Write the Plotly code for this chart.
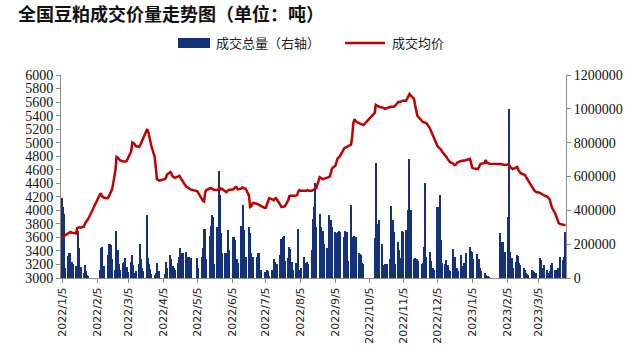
import pandas as pd
import plotly.graph_objects as go

# ---------------- data ----------------
# Exchange holidays (no trading) within the period
holidays = ["2022-01-03", "2022-01-31", "2022-02-01", "2022-02-02", "2022-02-03", "2022-02-04",
            "2022-04-04", "2022-04-05", "2022-05-02", "2022-05-03", "2022-05-04", "2022-06-03",
            "2022-09-12", "2022-10-03", "2022-10-04", "2022-10-05", "2022-10-06", "2022-10-07",
            "2023-01-02", "2023-01-23", "2023-01-24", "2023-01-25", "2023-01-26", "2023-01-27"]
trade_days = pd.bdate_range("2022-01-04", "2023-03-29", freq="C", holidays=holidays)

# Daily total volume (thousand tonnes), by month
vol_2022_01 = [475, 420, 380, 60, 130, 145, 150, 95, 80, 70, 60, 275, 180, 65, 30, 75, 40, 20, 10]
vol_2022_02 = [45, 180, 185, 60, 70, 135, 200, 200, 195, 115, 45, 280, 165, 80, 45, 90]
vol_2022_03 = [95, 120, 65, 35, 95, 135, 75, 30, 40, 85, 200, 115, 60, 40, 370, 120, 85, 55, 25, 15, 30, 90, 40]
vol_2022_04 = [40, 25, 95, 60, 135, 110, 70, 60, 45, 90, 125, 180, 145, 150, 155, 125, 125, 125, 120]
vol_2022_05 = [120, 60, 125, 175, 290, 290, 110, 250, 310, 370, 360, 80, 300, 630, 490, 265, 150, 150, 150]
vol_2022_06 = [285, 165, 240, 240, 225, 110, 90, 310, 300, 430, 285, 125, 300, 265, 150, 120, 125, 125, 145, 150, 50]
vol_2022_07 = [50, 35, 35, 45, 40, 10, 45, 110, 95, 85, 85, 135, 230, 245, 250, 100, 120, 185, 170, 95, 50]
vol_2022_08 = [90, 60, 290, 45, 60, 125, 90, 90, 95, 85, 165, 350, 420, 560, 300, 380, 300, 270, 275, 200, 175, 370, 320]
vol_2022_09 = [340, 300, 270, 265, 270, 275, 270, 245, 280, 270, 100, 430, 245, 185, 250, 240, 150, 140, 135, 90, 80]
vol_2022_10 = [235, 680, 265, 320, 345, 200, 75, 85, 85, 85, 115, 425, 345, 270, 85, 215]
vol_2022_11 = [165, 120, 280, 270, 285, 285, 400, 705, 400, 115, 120, 110, 115, 100, 85, 90, 185, 560, 125, 155, 100, 50]
vol_2022_12 = [60, 50, 420, 420, 490, 225, 90, 80, 105, 75, 50, 40, 170, 75, 125, 60, 40, 135, 70, 50, 90, 150]
vol_2023_01 = [185, 160, 155, 115, 140, 110, 110, 57, 40, 28, 20, 10, 8, 5, 265, 215]
vol_2023_02 = [215, 155, 155, 360, 1000, 155, 120, 60, 97, 136, 130, 87, 77, 57, 47, 28, 25, 15, 47, 40]
vol_2023_03 = [37, 28, 28, 116, 106, 28, 60, 77, 47, 28, 40, 77, 87, 47, 47, 57, 57, 126, 106, 126, 272]

# Daily average price (yuan/tonne), by month
price_2022_01 = [3600, 3610, 3630, 3640, 3660, 3680, 3680, 3670, 3670, 3660, 3740, 3750, 3750, 3745, 3760, 3810, 3830, 3860, 3880]
price_2022_02 = [4230, 4255, 4210, 4200, 4185, 4180, 4200, 4240, 4280, 4310, 4590, 4790, 4780, 4750, 4740, 4720]
price_2022_03 = [4715, 4720, 4730, 4760, 4870, 5000, 4990, 4980, 4950, 4935, 4960, 5000, 5020, 5070, 5190, 5180, 5100, 5040, 4950, 4790, 4650, 4460, 4450]
price_2022_04 = [4440, 4460, 4480, 4530, 4567, 4540, 4500, 4490, 4480, 4500, 4510, 4480, 4460, 4430, 4350, 4340, 4330, 4320, 4310]
price_2022_05 = [4280, 4250, 4180, 4140, 4130, 4270, 4300, 4320, 4330, 4320, 4310, 4300, 4300, 4320, 4330, 4310, 4320, 4280, 4270]
price_2022_06 = [4290, 4300, 4310, 4330, 4345, 4340, 4310, 4320, 4340, 4330, 4330, 4320, 4220, 4050, 4060, 4100, 4110, 4100, 4090, 4080, 4070]
price_2022_07 = [4060, 4035, 4040, 4100, 4150, 4180, 4160, 4150, 4170, 4180, 4160, 4060, 4050, 4050, 4050, 4060, 4150, 4210, 4215, 4220, 4215]
price_2022_08 = [4220, 4230, 4280, 4300, 4290, 4290, 4280, 4290, 4300, 4290, 4290, 4300, 4300, 4310, 4330, 4490, 4480, 4470, 4460, 4470, 4480, 4490, 4500]
price_2022_09 = [4560, 4620, 4660, 4720, 4770, 4780, 4800, 4920, 4930, 4940, 4950, 4970, 5100, 5290, 5350, 5320, 5290, 5285, 5280, 5270, 5260]
price_2022_10 = [5440, 5560, 5550, 5540, 5530, 5520, 5510, 5500, 5510, 5510, 5530, 5530, 5520, 5530, 5540, 5600]
price_2022_11 = [5600, 5600, 5610, 5620, 5620, 5650, 5680, 5720, 5700, 5650, 5560, 5450, 5400, 5380, 5320, 5305, 5300, 5295, 5290, 5220, 5180, 5140]
price_2022_12 = [5110, 5050, 4950, 4930, 4920, 4900, 4870, 4820, 4790, 4760, 4730, 4715, 4690, 4670, 4670, 4690, 4710, 4730, 4730, 4730, 4730, 4740]
price_2023_01 = [4760, 4700, 4630, 4620, 4610, 4610, 4640, 4680, 4690, 4700, 4745, 4700, 4700, 4690, 4685, 4680]
price_2023_02 = [4680, 4675, 4670, 4680, 4660, 4630, 4620, 4610, 4630, 4640, 4600, 4570, 4550, 4530, 4520, 4490, 4460, 4440, 4350, 4320]
price_2023_03 = [4300, 4280, 4270, 4260, 4250, 4240, 4225, 4220, 4200, 4180, 4160, 4100, 4040, 3950, 3890, 3840, 3810, 3800, 3785, 3780, 3780]

tick_dates = ["2022-01-05", "2022-02-05", "2022-03-05", "2022-04-05", "2022-05-05", "2022-06-05",
              "2022-07-05", "2022-08-05", "2022-09-05", "2022-10-05", "2022-11-05", "2022-12-05",
              "2023-01-05", "2023-02-05", "2023-03-05"]
tick_labels = ["2022/1/5", "2022/2/5", "2022/3/5", "2022/4/5", "2022/5/5", "2022/6/5",
               "2022/7/5", "2022/8/5", "2022/9/5", "2022/10/5", "2022/11/5", "2022/12/5",
               "2023/1/5", "2023/2/5", "2023/3/5"]

series_names = ["成交总量（右轴）", "成交均价"]
title_text = "全国豆粕成交价量走势图（单位：吨）"

vol_k = (vol_2022_01 + vol_2022_02 + vol_2022_03 + vol_2022_04 + vol_2022_05 + vol_2022_06 +
         vol_2022_07 + vol_2022_08 + vol_2022_09 + vol_2022_10 + vol_2022_11 + vol_2022_12 +
         vol_2023_01 + vol_2023_02 + vol_2023_03)
price = (price_2022_01 + price_2022_02 + price_2022_03 + price_2022_04 + price_2022_05 + price_2022_06 +
         price_2022_07 + price_2022_08 + price_2022_09 + price_2022_10 + price_2022_11 + price_2022_12 +
         price_2023_01 + price_2023_02 + price_2023_03)
volume = [v * 1000 for v in vol_k]
assert len(volume) == len(trade_days) == len(price), (len(volume), len(trade_days), len(price))

# ---------------- figure ----------------
BAR = "#133279"
RED = "#c00000"
AX = "#8c8c8c"

fig = go.Figure()
fig.add_trace(go.Bar(x=trade_days, y=volume, name=series_names[0], yaxis="y",
                     marker=dict(color=BAR, line=dict(width=0)), width=86400000, showlegend=False))
fig.add_trace(go.Scatter(x=trade_days, y=price, name=series_names[1], yaxis="y2", mode="lines",
                         line=dict(color=RED, width=2.5), showlegend=False))

L, R, T, B = 61, 74, 75, 84
W, H = 640, 362
pw, ph = W - L - R, H - T - B

def px_x(x):
    return (x - L) / pw

def px_y(y):
    return (H - B - y) / ph

fig.update_layout(
    width=W, height=H,
    margin=dict(l=L, r=R, t=T, b=B),
    paper_bgcolor="white", plot_bgcolor="white",
    bargap=0,
    title=dict(text="<b>" + title_text + "</b>", x=18 / W, xanchor="left", xref="container",
               y=1 - 15 / H, yanchor="middle", yref="container",
               font=dict(family="Noto Sans CJK SC", size=18, color="#111")),
    xaxis=dict(type="date", range=["2022-01-03 12:00", "2023-03-29 12:00"],
               tickvals=tick_dates, ticktext=tick_labels, tickangle=-90,
               ticks="outside", ticklen=4, tickcolor=AX, showline=True, linecolor=AX, linewidth=1,
               showgrid=False, zeroline=False,
               tickfont=dict(family="DejaVu Sans", size=11, color="#222")),
    yaxis=dict(side="right", range=[0, 1200000], dtick=200000, tickformat="d",
               ticks="outside", ticklen=4, tickcolor=AX, showline=True, linecolor=AX, linewidth=1,
               showgrid=False, zeroline=False,
               tickfont=dict(family="Liberation Serif", size=14, color="#111")),
    yaxis2=dict(side="left", overlaying="y", range=[3000, 6000], dtick=200, tickformat="d",
                ticks="outside", ticklen=4, tickcolor=AX, showline=True, linecolor=AX, linewidth=1,
                showgrid=False, zeroline=False,
                tickfont=dict(family="Liberation Serif", size=14, color="#111")),
    showlegend=False,
)

# manual legend
fig.add_shape(type="rect", xref="paper", yref="paper",
              x0=px_x(178), x1=px_x(210), y0=px_y(48), y1=px_y(38),
              fillcolor=BAR, line=dict(width=0))
fig.add_annotation(xref="paper", yref="paper", x=px_x(214), y=px_y(43), xanchor="left", yanchor="middle",
                   text=series_names[0], showarrow=False,
                   font=dict(family="Noto Sans CJK SC", size=13, color="#222"))
fig.add_shape(type="line", xref="paper", yref="paper",
              x0=px_x(345), x1=px_x(385), y0=px_y(43), y1=px_y(43),
              line=dict(color=RED, width=2.5))
fig.add_annotation(xref="paper", yref="paper", x=px_x(390), y=px_y(43), xanchor="left", yanchor="middle",
                   text=series_names[1], showarrow=False,
                   font=dict(family="Noto Sans CJK SC", size=13, color="#222"))

fig.write_html("out.html", config={"displayModeBar": False},
               post_script="document.body.style.margin='0px';")
